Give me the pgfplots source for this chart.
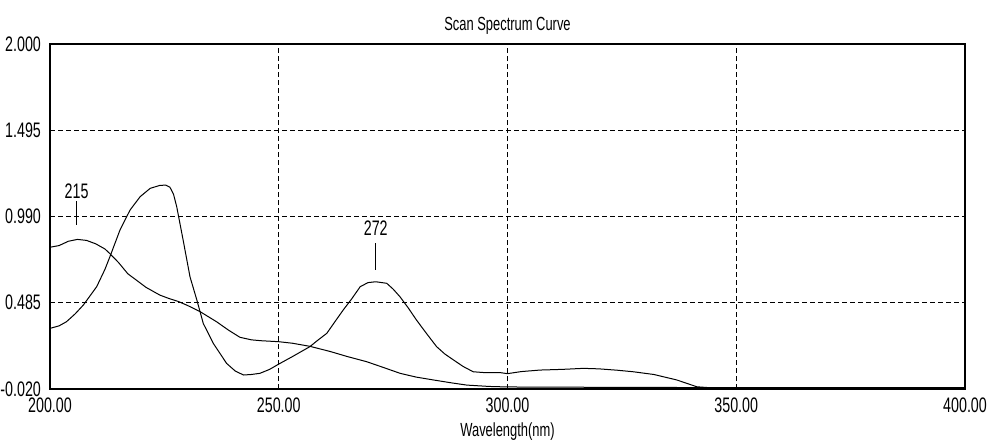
\documentclass[border=0pt]{standalone}
\usepackage{fontspec}
\setmainfont{Liberation Sans}[FakeStretch=0.68]
\usepackage{pgfplots}
\pgfplotsset{compat=1.18}

\begin{document}
\begin{tikzpicture}
\begin{axis}[
    name=ax,
    scale only axis,
    width=457.5pt, height=172.5pt,
    xmin=200, xmax=400,
    ymin=-0.02, ymax=2.0,
    xtick={200,250,300,350,400},
    ytick={-0.02,0.485,0.99,1.495,2.0},
    xticklabel style={/pgf/number format/fixed, /pgf/number format/fixed zerofill, /pgf/number format/precision=2, yshift=-1pt},
    yticklabel style={/pgf/number format/fixed, /pgf/number format/fixed zerofill, /pgf/number format/precision=3, xshift=-1pt},
    /pgf/number format/assume math mode=true,
    tick label style={font=\fontsize{10.5}{11}\selectfont, text=black},
    major tick length=0pt,
    axis line style={black, line width=0.6pt},
    grid=major,
    major grid style={black, line width=0.5pt, dash pattern=on 2.5pt off 1.5pt},
    title={Scan Spectrum Curve},
    title style={at={(axis description cs:0.5,1)}, anchor=center, yshift=3pt, font=\fontsize{9.5}{10}\selectfont},
    xlabel={Wavelength(nm)},
    xlabel style={at={(axis description cs:0.5,0)}, anchor=center, yshift=-21.5pt, font=\fontsize{9.5}{10}\selectfont},
]
% broad band, max near 206 nm
\addplot[black, line width=0.5pt] coordinates {
(200,0.810) (202,0.820) (204,0.845) (206,0.856) (208,0.850) (210,0.830)
(212,0.800) (213,0.775) (215,0.720) (217,0.655) (219,0.615) (221,0.575)
(224,0.530) (226,0.510) (228,0.493) (230,0.470) (232.8,0.433) (236.4,0.374)
(239,0.325) (241.5,0.283) (244,0.268) (246,0.263) (250,0.257) (253,0.248)
(256.8,0.230) (261.2,0.200) (265,0.170) (269.2,0.140) (273,0.105) (276.5,0.072)
(280,0.050) (283.8,0.033) (288,0.015) (291.1,0.003) (296,-0.005) (300,-0.008)
(320,-0.010) (350,-0.012) (400,-0.012)
};
% sharp band at 225 nm and band at 272 nm
\addplot[black, line width=0.5pt] coordinates {
(200,0.335) (202,0.350) (203.6,0.374) (205.5,0.420) (207.3,0.472) (210.2,0.579)
(212,0.680) (213.1,0.755) (215.3,0.911) (217.5,1.028) (219.7,1.106) (221.9,1.155)
(224.0,1.172) (225.3,1.174) (226.2,1.162) (227.0,1.120) (227.7,1.047) (229.1,0.852)
(230.6,0.637) (232.1,0.501) (233.5,0.364) (235.7,0.247) (238.6,0.130) (240.5,0.085)
(242.3,0.062) (244,0.065) (245.9,0.072) (248,0.095) (250,0.126) (253,0.170)
(256.8,0.228) (258.5,0.265) (260.5,0.306) (262.3,0.375) (264.1,0.443) (266,0.510)
(267.8,0.579) (269.5,0.603) (271.2,0.608) (273.6,0.599) (275,0.565) (276.5,0.520)
(278.3,0.455) (280.1,0.384) (282.3,0.305) (284.5,0.228) (286.3,0.185) (288.2,0.150)
(290.3,0.112) (292.5,0.081) (295,0.076) (298.4,0.076) (300,0.070) (303,0.082)
(307.1,0.091) (312,0.095) (316.6,0.101) (320,0.098) (324,0.090) (327.5,0.081)
(332,0.065) (337.0,0.033) (341.4,-0.007) (344,-0.012) (400,-0.012)
};
% peak markers
\draw[black, line width=0.5pt] (axis cs:205.8,1.08) -- (axis cs:205.8,0.94);
\node[font=\fontsize{10.5}{11}\selectfont] at (axis cs:205.8,1.139) {215};
\draw[black, line width=0.5pt] (axis cs:271.2,0.833) -- (axis cs:271.2,0.677);
\node[font=\fontsize{10.5}{11}\selectfont] at (axis cs:271.2,0.921) {272};
\end{axis}
\pgfresetboundingbox
\path[use as bounding box] ([shift={(-25pt,-26pt)}]ax.south west) rectangle ([shift={(11pt,22pt)}]ax.north east);
\end{tikzpicture}
\end{document}
